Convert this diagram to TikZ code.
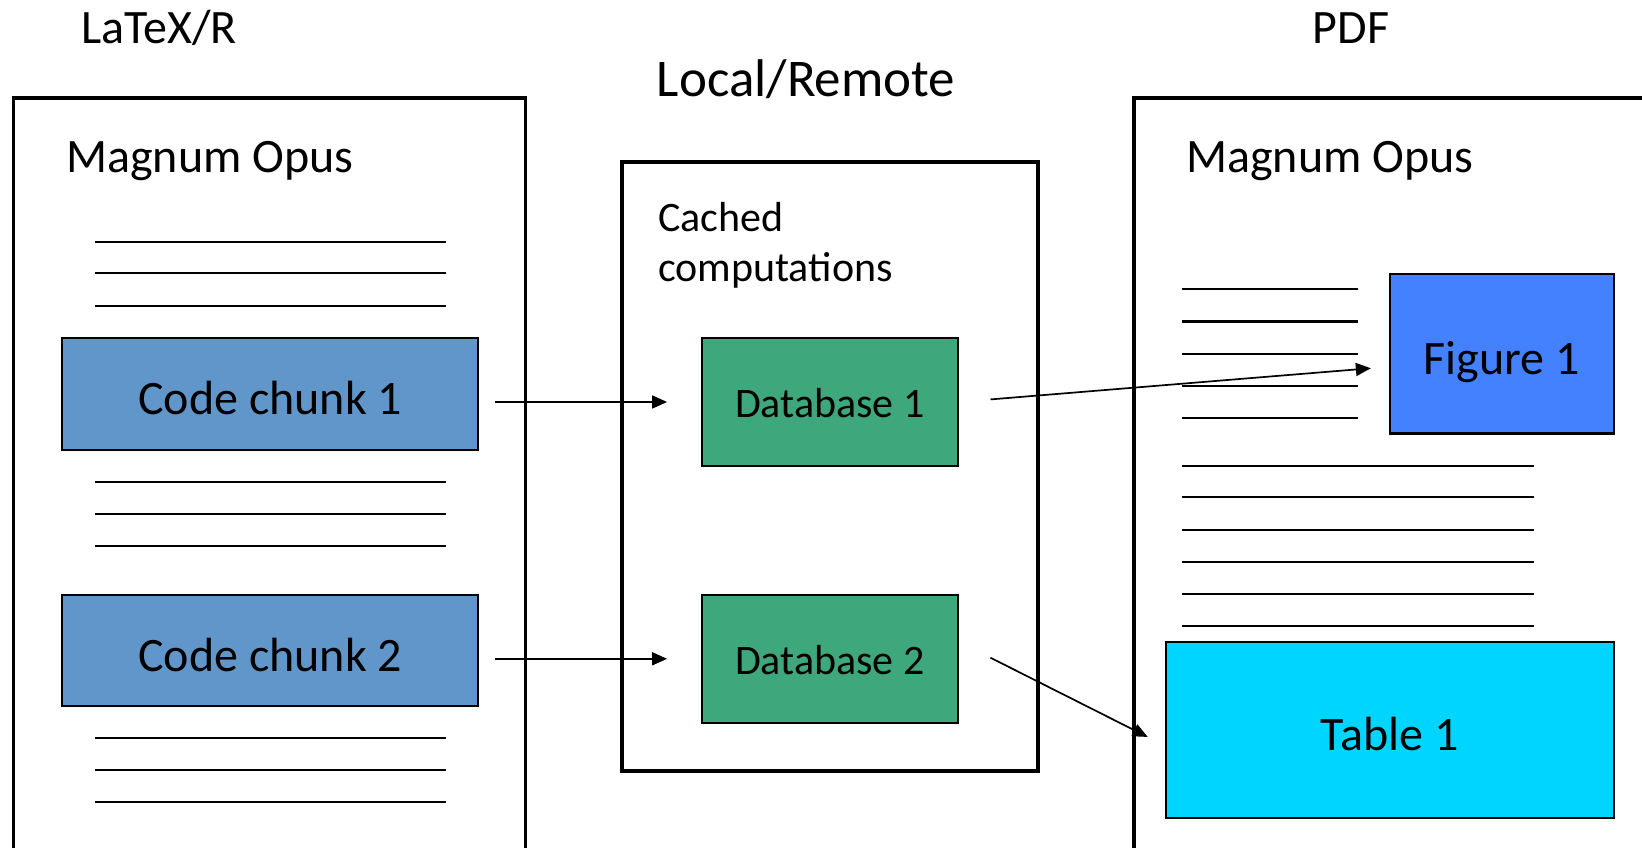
\documentclass[tikz,border=0pt]{standalone}
\usepackage{fontspec}
\setmainfont{Carlito}
\usetikzlibrary{arrows.meta,calc}
\definecolor{chunkblue}{HTML}{6096C9}
\definecolor{dbgreen}{HTML}{3FA77C}
\definecolor{figblue}{HTML}{4381FF}
\definecolor{tabcyan}{HTML}{00D5FF}
\begin{document}
\begin{tikzpicture}[x=1pt,y=-1pt,
  container/.style={draw, line width=3.4pt, inner sep=0pt},
  bigtext/.style={font=\fontsize{48}{58}\selectfont, inner sep=0pt},
  smalltext/.style={font=\fontsize{42}{50}\selectfont, inner sep=0pt},
  boxed/.style={draw, line width=2.2pt, inner sep=0pt, text height=41pt, text depth=0pt},
  chunk/.style={boxed, fill=chunkblue, minimum width=416pt, minimum height=112pt, font=\fontsize{48}{58}\selectfont},
  dbbox/.style={boxed, fill=dbgreen, minimum width=256pt, minimum height=128pt, font=\fontsize{42}{50}\selectfont, text height=31.5pt},
  txtline/.style={line width=2.2pt},
  arr/.style={line width=1.7pt, -{Triangle[length=15pt,width=13pt]}}
]
\path[use as bounding box] (0,0) rectangle (1642,848);
\clip (0,0) rectangle (1642,848);

% containers
\node[container, minimum width=512pt, minimum height=802pt] (lbox) at (269.6,499.2) {};
\node[container, minimum width=416pt, minimum height=609pt] (mbox) at (830,466.5) {};
\node[container, minimum width=566pt, minimum height=802pt] (rbox) at (1417,499.2) {};

% titles
\node[bigtext, anchor=base] (tlatex) at (159,44) {LaTeX/R};
\node[bigtext, anchor=base] (tpdf) at (1351,44) {PDF};
\node[font=\fontsize{53}{64}\selectfont, inner sep=0pt, anchor=base] (tlocal) at (806,97) {Local/Remote};
\node[bigtext, anchor=base west] (mol) at (66,172) {Magnum Opus};
\node[bigtext, anchor=base west] (mor) at (1186,172) {Magnum Opus};
\node[smalltext, anchor=base west] (cache1) at (658,231) {Cached};
\node[smalltext, anchor=base west] (cache2) at (658,281) {computations};

% text lines left
\foreach \yy in {242,273,306,482,514,546,738,770,802}
  \draw[txtline] (95,\yy) -- (446,\yy);
% text lines right
\foreach \yy in {289,321.5,354,386,418}
  \draw[txtline] (1182,\yy) -- (1358,\yy);
\foreach \yy in {466,497,530,562,594,626}
  \draw[txtline] (1182,\yy) -- (1534,\yy);

% boxes
\node[chunk] (c1) at (270.3,394) {Code chunk 1};
\node[chunk, minimum height=111pt] (c2) at (270.3,650.5) {Code chunk 2};
\node[dbbox] (db1) at (829.8,402) {Database 1};
\node[dbbox] (db2) at (829.8,658.8) {Database 2};
\node[boxed, fill=figblue, minimum width=224pt, minimum height=159.5pt, font=\fontsize{48}{58}\selectfont] (fig1) at (1501.6,353.8) {Figure 1};
\node[boxed, fill=tabcyan, minimum width=448pt, minimum height=176pt, font=\fontsize{48}{58}\selectfont] (tab1) at (1389.6,730) {Table 1};

% arrows
\draw[arr, shorten <=15.6pt, shorten >=33.6pt] (c1.east |- db1.west) -- (db1.west);
\draw[arr, shorten <=15.6pt, shorten >=33.6pt] (c2.east |- db2.west) -- (db2.west);
\draw[arr, shorten <=31.7pt, shorten >=17.7pt] (db1.east) -- ($(fig1.west)+(0,13)$);
\draw[arr, shorten <=35.3pt, shorten >=18.8pt] ($(db2.east)+(0,-17)$) -- ($(tab1.west)+(0,15.4)$);
\end{tikzpicture}
\end{document}
